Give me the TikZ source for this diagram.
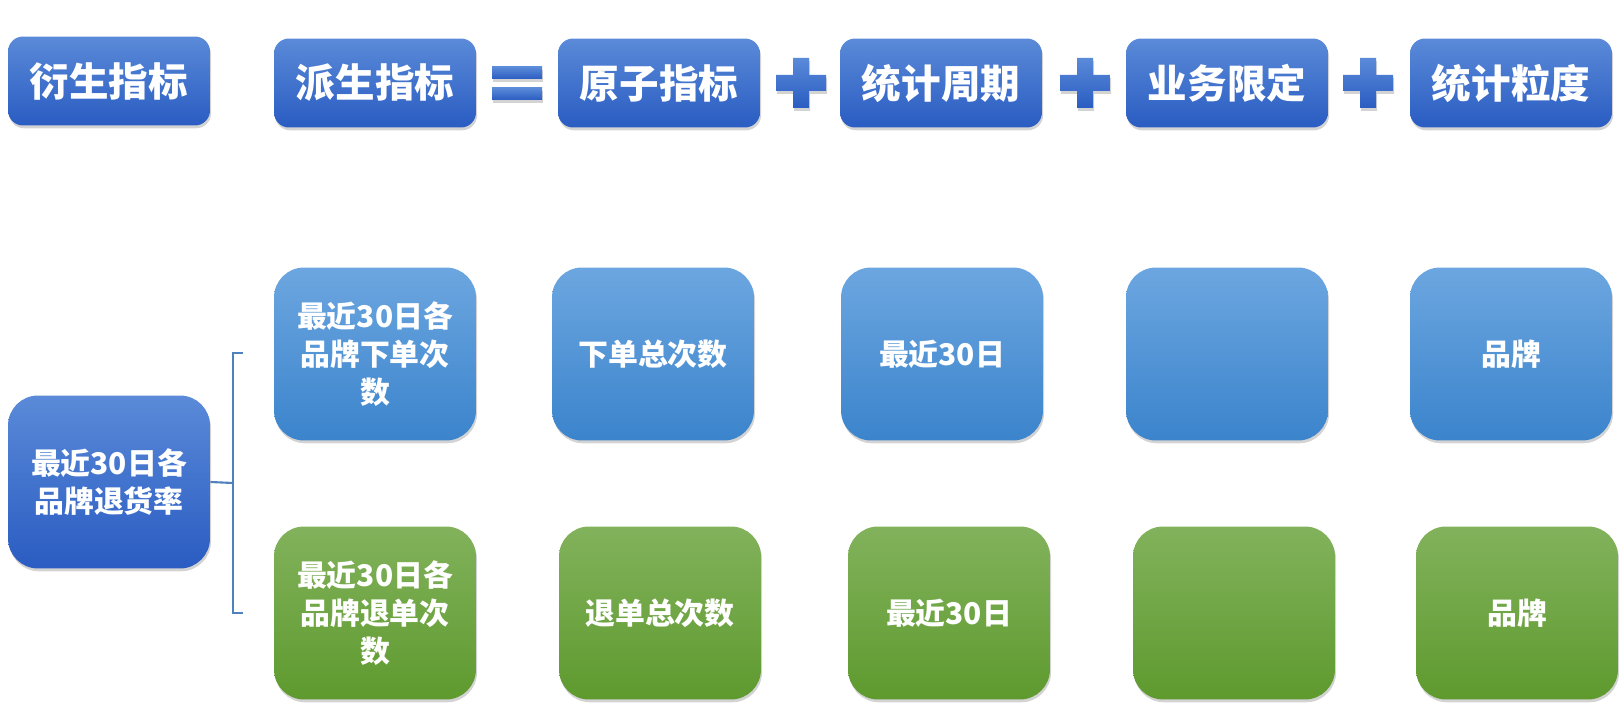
\documentclass[tikz,border=0pt]{standalone}
\usepackage{fontspec}
\newfontfamily\cjk{Noto Sans CJK SC}
\usetikzlibrary{shadows}

\definecolor{topblue}{HTML}{5A8AD8}
\definecolor{botblue}{HTML}{2A5CC2}
\definecolor{toplight}{HTML}{6CA6E0}
\definecolor{botlight}{HTML}{3B84CC}
\definecolor{topgreen}{HTML}{82B25C}
\definecolor{botgreen}{HTML}{5E9A2E}
\definecolor{bracecol}{HTML}{4F81BD}

\begin{document}
\begin{tikzpicture}
[x=0.02cm,y=-0.02cm,
every node/.style={shape=rectangle,align=center,text=white,font=\cjk},
shadowed/.style={drop shadow={opacity=0.35,shadow xshift=0.6pt,shadow yshift=-1.6pt}},
titlebox/.style={shadowed,rounded corners=0.3cm,minimum width=4.04cm,minimum height=1.78cm,
  top color=topblue,bottom color=botblue,font=\cjk\bfseries\fontsize{22.5}{27}\selectfont},
itembox/.style={shadowed,rounded corners=0.6cm,minimum width=4.04cm,minimum height=3.46cm,
  font=\cjk\bfseries\fontsize{17}{21.5}\selectfont},
bluebox/.style={itembox,top color=toplight,bottom color=botlight},
greenbox/.style={itembox,top color=topgreen,bottom color=botgreen},
ratebox/.style={itembox,top color=topblue,bottom color=botblue},
signpart/.style={shadowed,top color=topblue,bottom color=botblue},
bracket/.style={draw=bracecol,line width=1.2pt}]

\useasboundingbox (0,0) rectangle (1624,712);

% top row
\node[titlebox] (derived) at (109,81) {衍生指标};
\node[titlebox] (derive) at (375,83) {派生指标};
\node[titlebox] (atom) at (659,83) {原子指标};
\node[titlebox] (period) at (941,83) {统计周期};
\node[titlebox] (limit) at (1227,83) {业务限定};
\node[titlebox] (grain) at (1511,83) {统计粒度};

% = and +
\path[signpart] (492,67) rectangle (542,79);
\path[signpart] (492,88) rectangle (542,100);
\foreach \cx in {801,1085,1368}
  \path[signpart] (\cx-8,58) -- (\cx+8,58) -- (\cx+8,75) -- (\cx+25,75) -- (\cx+25,91)
    -- (\cx+8,91) -- (\cx+8,108) -- (\cx-8,108) -- (\cx-8,91) -- (\cx-25,91)
    -- (\cx-25,75) -- (\cx-8,75) -- cycle;

% left
\node[ratebox] (rate) at (109,482) {最近30日各\\品牌退货率};

% order row
\node[bluebox] (order) at (375,354) {最近30日各\\品牌下单次\\数};
\node[bluebox] (ordercnt) at (653,354) {下单总次数};
\node[bluebox] (orderdays) at (942,354) {最近30日};
\node[bluebox] (orderlimit) at (1227,354) {};
\node[bluebox] (orderbrand) at (1511,354) {品牌};

% return row
\node[greenbox] (ret) at (375,613) {最近30日各\\品牌退单次\\数};
\node[greenbox] (retcnt) at (660,613) {退单总次数};
\node[greenbox] (retdays) at (949,613) {最近30日};
\node[greenbox] (retlimit) at (1234,613) {};
\node[greenbox] (retbrand) at (1517,613) {品牌};

% bracket
\coordinate (bmid) at (233,483);
\coordinate (btop) at (233,353);
\coordinate (bbot) at (233,613);
\draw[bracket] (rate.east) -- (bmid);
\draw[bracket] (btop) ++(10,0) -- (btop) -- (bbot) -- ++(10,0);
\end{tikzpicture}
\end{document}
